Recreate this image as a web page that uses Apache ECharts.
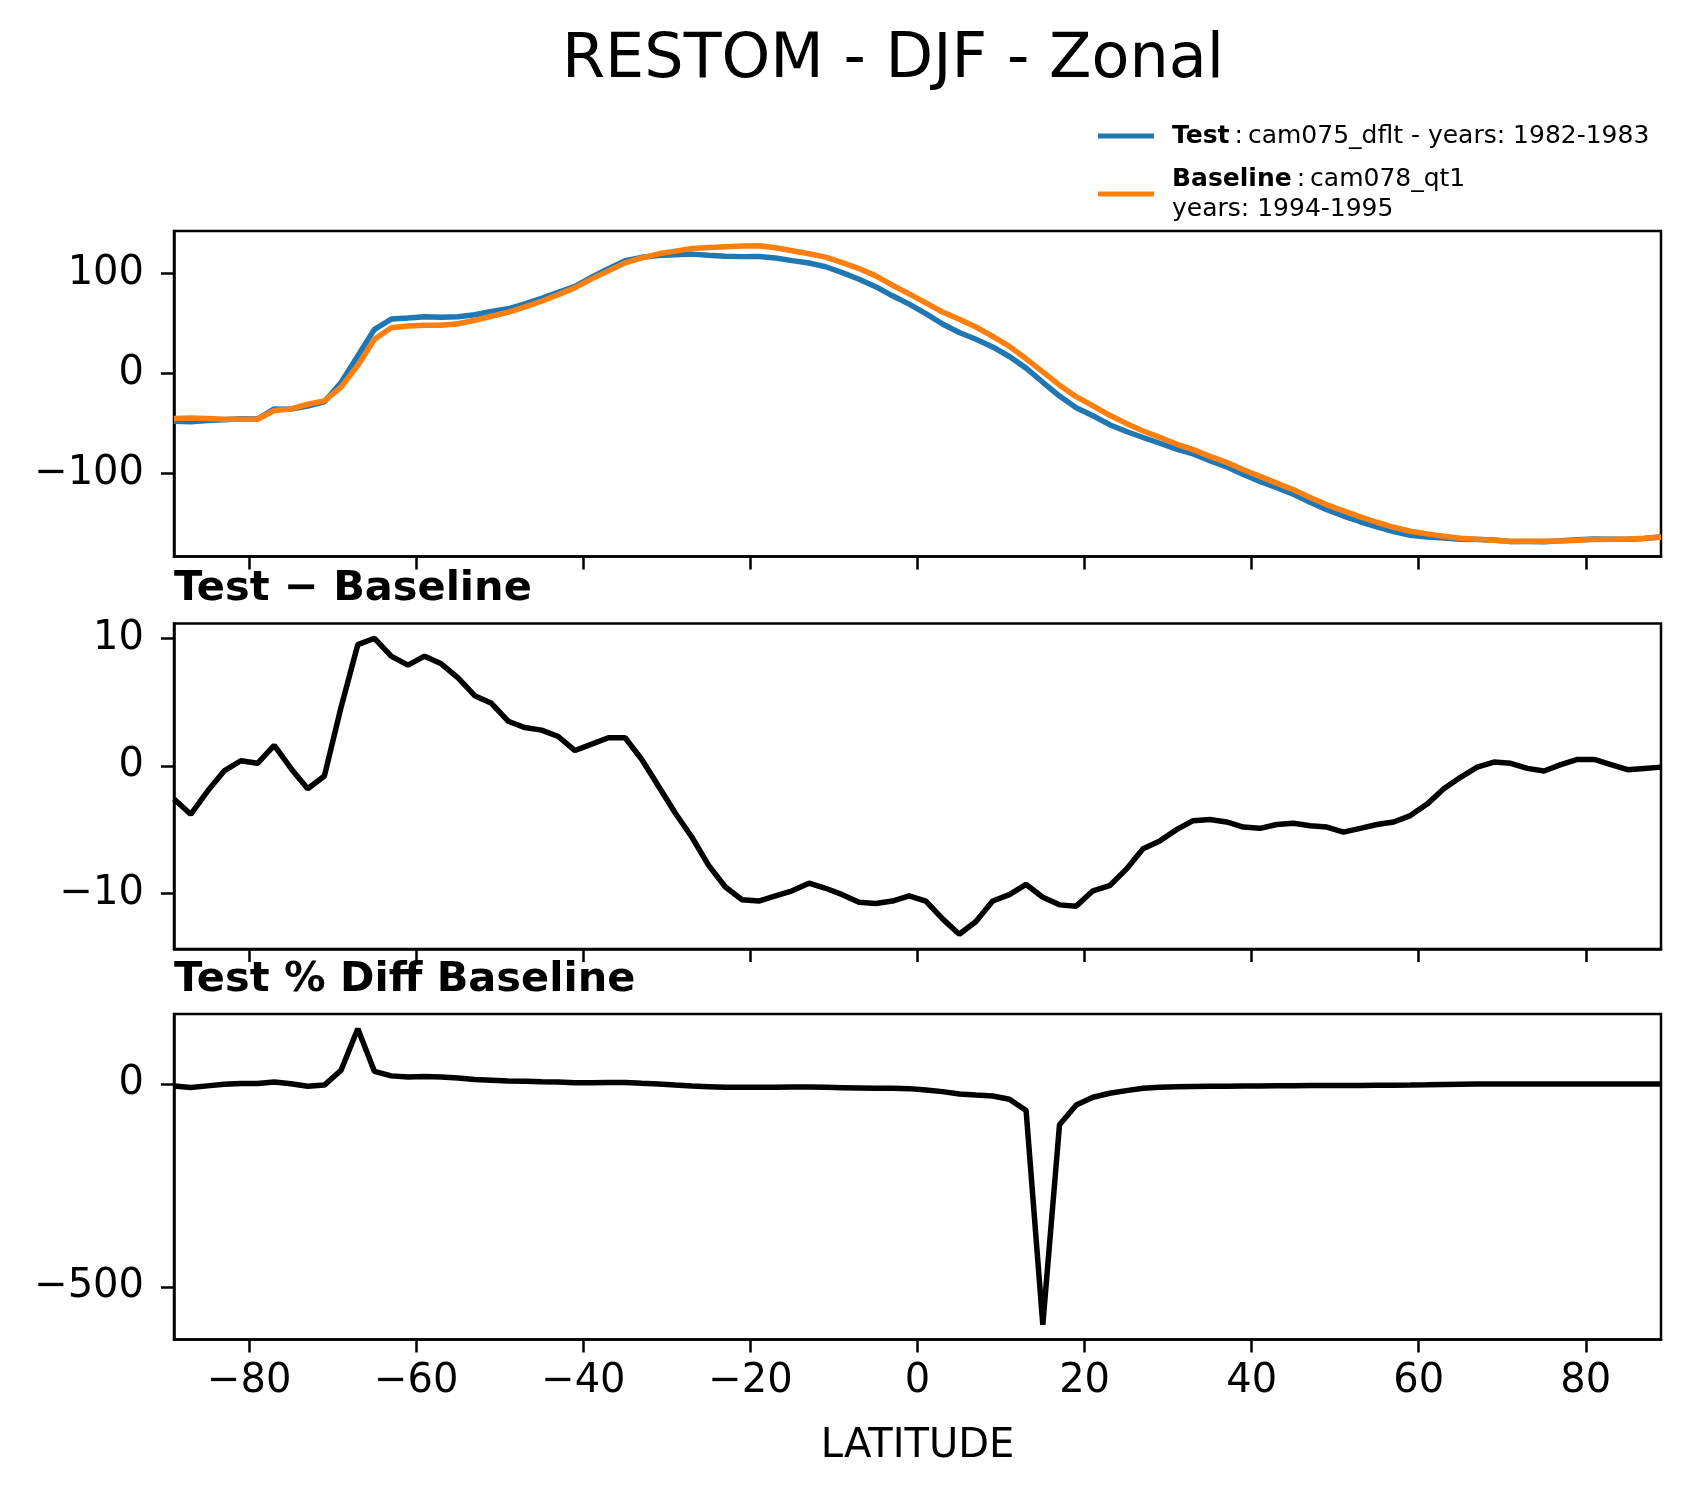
<!DOCTYPE html>
<html>
<head>
<meta charset="utf-8">
<script src="https://cdn.jsdelivr.net/npm/echarts@6/dist/echarts.min.js"></script>
<style>
html,body{margin:0;padding:0;background:#fff;}
#chart{width:1691px;height:1496px;}
</style>
</head>
<body>
<div id="chart"></div>
<script>
const lat = [-89,-87,-85,-83,-81,-79,-77,-75,-73,-71,
  -69,-67,-65,-63,-61,-59,-57,-55,-53,-51,
  -49,-47,-45,-43,-41,-39,-37,-35,-33,-31,
  -29,-27,-25,-23,-21,-19,-17,-15,-13,-11,
  -9,-7,-5,-3,-1,1,3,5,7,9,
  11,13,15,17,19,21,23,25,27,29,
  31,33,35,37,39,41,43,45,47,49,
  51,53,55,57,59,61,63,65,67,69,
  71,73,75,77,79,81,83,85,87,89];

const testVals = [-47.6,-48.3,-47.0,-46.1,-45.3,-45.5,-35.4,-35.6,-32.5,-28.2,
  -9.1,17.5,44.0,54.2,55.2,56.6,56.0,56.5,58.5,61.9,
  64.5,69.3,74.8,80.9,86.8,96.0,104.5,112.5,115.8,117.7,
  118.3,119.0,117.8,116.8,116.5,116.7,115.1,112.5,110.1,106.4,
  100.5,93.9,86.5,77.4,69.1,59.7,49.3,40.8,34.1,26.4,
  16.9,5.3,-8.8,-22.6,-34.2,-42.2,-51.1,-57.9,-63.9,-69.6,
  -75.4,-80.3,-86.9,-93.1,-100.8,-107.6,-114.0,-120.5,-128.4,-135.8,
  -142.2,-147.9,-153.0,-157.8,-161.3,-163.0,-164.2,-165.3,-165.5,-166.1,
  -167.5,-167.6,-167.8,-166.9,-165.9,-165.2,-165.3,-165.3,-164.6,-163.1];

const baseVals = [-45.0,-44.5,-45.0,-45.7,-45.7,-45.7,-37.0,-35.4,-30.7,-27.4,
  -13.7,8.0,34.0,45.6,47.3,48.0,48.0,49.6,53.0,57.0,
  61.0,66.3,72.0,78.6,85.6,94.3,102.3,110.3,115.3,119.3,
  122.0,124.6,125.6,126.3,127.0,127.3,125.3,122.3,119.3,116.0,
  110.6,104.6,97.3,88.0,79.3,70.3,61.3,54.0,46.3,37.0,
  27.0,14.6,1.5,-11.7,-23.2,-32.4,-41.7,-49.8,-57.4,-63.7,
  -70.4,-76.0,-82.7,-88.7,-96.0,-102.7,-109.4,-116.0,-123.7,-131.0,
  -137.0,-143.0,-148.4,-153.4,-157.4,-160.0,-162.4,-164.4,-165.4,-166.4,
  -167.7,-167.4,-167.4,-167.0,-166.4,-165.7,-165.4,-165.0,-164.4,-163.0];

const diffVals = [-2.6,-3.8,-2.0,-0.4,0.4,0.2,1.6,-0.2,-1.8,-0.8,
  4.6,9.5,10.0,8.6,7.9,8.6,8.0,6.9,5.5,4.9,
  3.5,3.0,2.8,2.3,1.2,1.7,2.2,2.2,0.5,-1.6,
  -3.7,-5.6,-7.8,-9.5,-10.5,-10.6,-10.2,-9.8,-9.2,-9.6,
  -10.1,-10.7,-10.8,-10.6,-10.2,-10.6,-12.0,-13.2,-12.2,-10.6,
  -10.1,-9.3,-10.3,-10.9,-11.0,-9.8,-9.4,-8.1,-6.5,-5.9,
  -5.0,-4.3,-4.2,-4.4,-4.8,-4.9,-4.6,-4.5,-4.7,-4.8,
  -5.2,-4.9,-4.6,-4.4,-3.9,-3.0,-1.8,-0.9,-0.1,0.3,
  0.2,-0.2,-0.4,0.1,0.5,0.5,0.1,-0.3,-0.2,-0.1];

const pctVals = [-5.2,-8.8,-4.6,-0.8,1.2,1.0,5.0,0.5,-5.4,-2.7,
  34,136,31,20,17,18.5,17,14.5,11,9.5,
  7.5,6.5,5.5,5.0,3.2,3.2,3.8,3.8,1.8,0.2,
  -2.5,-4.9,-6.5,-8.2,-8.2,-8.2,-8.2,-7.4,-7.4,-8.2,
  -9.0,-9.8,-10.6,-10.6,-11.4,-14.7,-18.8,-24.5,-27.0,-29.4,
  -37.6,-65.4,-593,-100.5,-51.5,-32.7,-22.9,-16.3,-10.6,-8.2,
  -6.5,-6.0,-5.5,-5.3,-5.0,-4.8,-4.5,-4.2,-4.0,-3.8,
  -3.7,-3.4,-3.0,-2.8,-2.4,-1.9,-1.1,-0.5,0.0,0.2,
  0.1,-0.1,-0.2,0.1,0.3,0.3,0.0,-0.2,-0.1,-0.1];

const xTicks = [-80,-60,-40,-20,0,20,40,60,80];
const yTicksTop = [-100,0,100];
const yTicksDiff = [-10,0,10];
const yTicksPct = [-500,0];

const FONT = 'DejaVu Sans';

function pairs(xs, ys){ return xs.map((x,i)=>[x, ys[i]]); }
function lims(){
  let mn = Infinity, mx = -Infinity;
  for (const a of arguments) for (const v of a){ if(v<mn)mn=v; if(v>mx)mx=v; }
  const r = mx - mn;
  return [mn - 0.05*r, mx + 0.05*r];
}
const fmt = v => v < 0 ? '\u2212' + Math.abs(v) : String(v);

const topL = lims(testVals, baseVals);
const diffL = lims(diffVals);
const pctL = lims(pctVals);

const grids = [
  {left:174, top:231, width:1487, height:325.5},
  {left:174, top:623.5, width:1487, height:325.5},
  {left:174, top:1014, width:1487, height:325.5}
].map(g => Object.assign(g, {show:true, borderColor:'#000', borderWidth:2.5, backgroundColor:'transparent', containLabel:false}));

function xAxis(i, labels){
  return {
    type:'value', gridIndex:i, min:lat[0], max:lat[lat.length-1],
    axisLine:{show:true, onZero:false, lineStyle:{color:'#000', width:2.5}},
    axisTick:{show:true, inside:false, length:13, lineStyle:{color:'#000', width:2.5}, customValues:xTicks},
    axisLabel:{show:labels, customValues:xTicks, formatter:fmt, color:'#000', fontFamily:FONT, fontSize:40, margin:22},
    splitLine:{show:false},
    name: labels ? 'LATITUDE' : '',
    nameLocation:'middle', nameGap:87,
    nameTextStyle:{color:'#000', fontFamily:FONT, fontSize:40}
  };
}
function yAxis(i, l, ticks){
  return {
    type:'value', gridIndex:i, min:l[0], max:l[1],
    axisLine:{show:true, onZero:false, lineStyle:{color:'#000', width:2.5}},
    axisTick:{show:true, inside:false, length:13, lineStyle:{color:'#000', width:2.5}, customValues:ticks},
    axisLabel:{show:true, customValues:ticks, formatter:fmt, color:'#000', fontFamily:FONT, fontSize:40, margin:30},
    splitLine:{show:false}
  };
}

const chart = echarts.init(document.getElementById('chart'), null, {renderer:'canvas'});
chart.setOption({
  animation:false,
  backgroundColor:'#fff',
  title:[
    {text:'RESTOM - DJF - Zonal', left:893, top:30, textAlign:'center', padding:0,
     textStyle:{fontFamily:FONT, fontSize:62, fontWeight:'normal', color:'#000'}},
    {text:'Test \u2212 Baseline', left:174, top:568, padding:0,
     textStyle:{fontFamily:FONT, fontSize:41.5, fontWeight:'bold', color:'#000'}},
    {text:'Test % Diff Baseline', left:174, top:959, padding:0,
     textStyle:{fontFamily:FONT, fontSize:41.5, fontWeight:'bold', color:'#000'}}
  ],
  legend:{
    orient:'vertical', left:1098, top:121, itemWidth:56, itemHeight:5, icon:'rect', itemGap:13,
    padding:0,
    data:['Test','Baseline'],
    formatter: function(name){
      if (name === 'Test') return '{b|Test}{n|\u2009:\u2009cam075_dflt - years: 1982-1983}';
      return '{b|Baseline}{n|\u2009:\u2009cam078_qt1}\n{n|years: 1994-1995}';
    },
    textStyle:{fontFamily:FONT, fontSize:25, color:'#000', lineHeight:30, padding:[0,0,0,13],
      rich:{
        b:{fontFamily:FONT, fontSize:25, fontWeight:'bold', color:'#000', lineHeight:30},
        n:{fontFamily:FONT, fontSize:25, color:'#000', lineHeight:30}
      }}
  },
  grid: grids,
  xAxis:[xAxis(0,false), xAxis(1,false), xAxis(2,true)],
  yAxis:[yAxis(0, topL, yTicksTop), yAxis(1, diffL, yTicksDiff), yAxis(2, pctL, yTicksPct)],
  series:[
    {name:'Test', type:'line', xAxisIndex:0, yAxisIndex:0, data:pairs(lat,testVals),
     symbol:'none', showSymbol:false, color:'#1f77b4', lineStyle:{color:'#1f77b4', width:5.5}, z:2},
    {name:'Baseline', type:'line', xAxisIndex:0, yAxisIndex:0, data:pairs(lat,baseVals),
     symbol:'none', showSymbol:false, color:'#ff7f0e', lineStyle:{color:'#ff7f0e', width:5.5}, z:3},
    {name:'Test - Baseline', type:'line', xAxisIndex:1, yAxisIndex:1, data:pairs(lat,diffVals),
     symbol:'none', showSymbol:false, color:'#000', lineStyle:{color:'#000', width:5.5}},
    {name:'Test % Diff Baseline', type:'line', xAxisIndex:2, yAxisIndex:2, data:pairs(lat,pctVals),
     symbol:'none', showSymbol:false, color:'#000', lineStyle:{color:'#000', width:5.5}}
  ]
});
</script>
</body>
</html>
